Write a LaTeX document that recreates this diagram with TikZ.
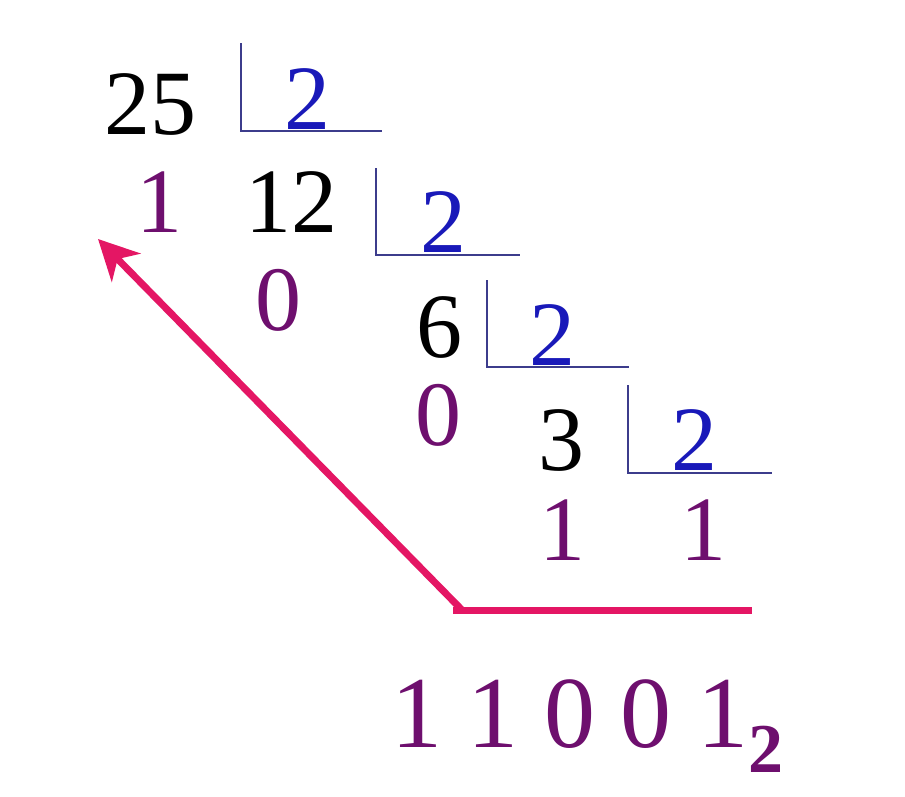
\documentclass[tikz,border=0pt]{standalone}
\usepackage{fontspec}
\setmainfont{Liberation Serif}
\usetikzlibrary{arrows.meta}
\definecolor{divblue}{RGB}{25,25,185}
\definecolor{rempurple}{RGB}{110,15,110}
\definecolor{arrowpink}{RGB}{228,22,100}
\definecolor{barnavy}{RGB}{60,60,140}
\newcommand\digfont{\fontsize{92}{92}\selectfont}
\newcommand\resfont{\fontsize{102}{102}\selectfont}
\tikzset{
  num/.style={anchor=base, inner sep=0pt, font=\digfont, text=black},
  divisor/.style={num, text=divblue},
  rem/.style={num, text=rempurple},
  bar/.style={draw=barnavy, line width=1.5pt},
  pinkline/.style={draw=arrowpink, line width=7pt},
}
\begin{document}
\begin{tikzpicture}[x=1pt,y=-1pt]
\path[use as bounding box, fill=white] (0,0) rectangle (905,796);

% dividends
\node[num] (n25) at (150,134) {25};
\node[num] (n12) at (291,232) {12};
\node[num] (n6) at (439,357) {6};
\node[num] (n3) at (561,470) {3};

% divisors
\node[divisor] (d1) at (307,129) {2};
\node[divisor] (d2) at (443,252) {2};
\node[divisor] (d3) at (552,365) {2};
\node[divisor] (d4) at (694,470) {2};

% division brackets
\draw[bar] (241,43) -- (241,131) -- (382,131);
\draw[bar] (376,168) -- (376,255) -- (520,255);
\draw[bar] (487,280) -- (487,367) -- (629,367);
\draw[bar] (628,385) -- (628,473) -- (772,473);

% remainders
\node[rem] (r1) at (159,232) {1};
\node[rem] (r2) at (278,330) {0};
\node[rem] (r3) at (438,445) {0};
\node[rem] (r4) at (562,560) {1};
\node[rem] (r5) at (703,560) {1};

% pink reading line and arrow
\coordinate (lstart) at (453,610);
\coordinate (lcorner) at (462,610);
\coordinate (lend) at (752,610);
\coordinate (tip) at (98,239);
\draw[pinkline] (lstart) -- (lend);
\draw[pinkline, -{Stealth[length=40pt,width=40pt,inset=12pt]}] (lcorner) -- (tip);

% result
\node[anchor=base west, inner sep=0pt, font=\resfont, text=rempurple] (res) at (391,747)
  {1 1 0 0 1\raisebox{-25pt}{\fontsize{70}{70}\selectfont\bfseries 2}};
\end{tikzpicture}
\end{document}
